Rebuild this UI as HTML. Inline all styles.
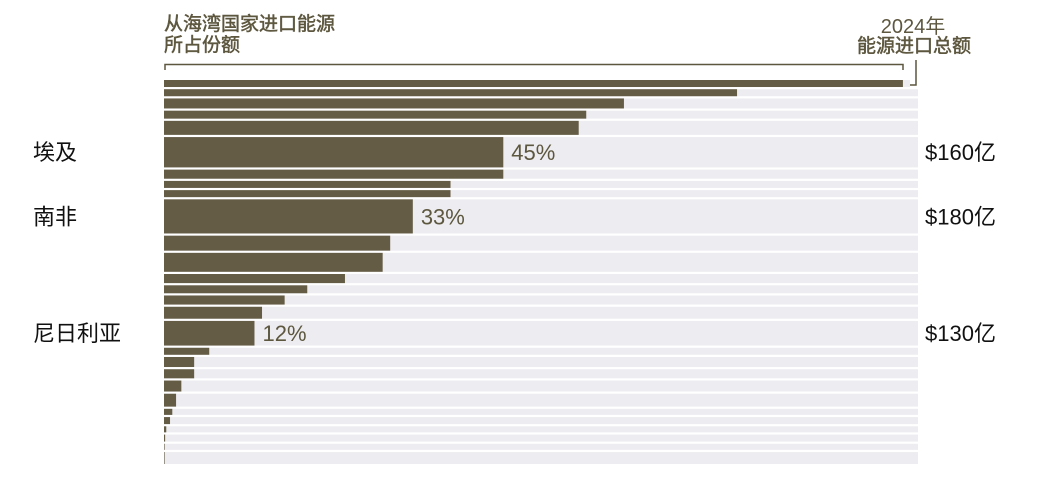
<!DOCTYPE html>
<html><head><meta charset="utf-8">
<style>
body{margin:0;background:#fff;width:1050px;height:478px;overflow:hidden;font-family:"Liberation Sans","Noto Sans CJK SC",sans-serif;}
svg{position:absolute;left:0;top:0}
</style></head>
<body>
<svg id="chart" width="1050" height="478" xmlns="http://www.w3.org/2000/svg">
  <text x="164" y="30" font-size="19" stroke="#5d573f" stroke-width="0.5" fill="#5d573f" font-family="Liberation Sans, Noto Sans CJK SC, sans-serif">从海湾国家进口能源</text>
  <text x="164" y="51" font-size="19" stroke="#5d573f" stroke-width="0.5" fill="#5d573f" font-family="Liberation Sans, Noto Sans CJK SC, sans-serif">所占份额</text>
  <text x="913" y="33" text-anchor="middle" font-size="20" fill="#5d573f" font-family="Liberation Sans, Noto Sans CJK SC, sans-serif">2024年</text>
  <text x="971" y="52" text-anchor="end" font-size="19" stroke="#5d573f" stroke-width="0.5" fill="#5d573f" font-family="Liberation Sans, Noto Sans CJK SC, sans-serif">能源进口总额</text>
  <path d="M165,70 V64.5 H903 V70" fill="none" stroke="#5d573f" stroke-width="1.5"/>
  <path d="M916,60 V85 H910" fill="none" stroke="#5d573f" stroke-width="1.5"/>
  <g id="rows"></g>
</svg>
<script>
const shares = [98,76,61,56,55,45,45,38,38,33,30,29,24,19,16,13,12,6,4,4,2.3,1.6,1.1,0.8,0.3,0.15,0.05,0.05];
const totals = [37,37,53,42,74,160,48,37,37,180,79,100,48,42,48,63,130,37,53,48,58,68,32,37,32,37,32,63];
const names = ["","","","","","埃及","","","","南非","","","","","","","尼日利亚","","","","","","","","","","",""];
const totalLabels = ["","","","","","$160亿","","","","$180亿","","","","","","","$130亿","","","","","","","","","","",""];
const shareLabels = ["","","","","","45%","","","","33%","","","","","","","12%","","","","","","","","","","",""];

const x0=164, x1=918, yTop=80, yBot=464, gap=2.2;
const sumT = totals.reduce((a,b)=>a+b,0);
const k = (yBot-yTop-gap*(totals.length-1))/sumT;
const xs = v => x0 + (x1-x0)*v/100;
const g = document.getElementById('rows');
const NS='http://www.w3.org/2000/svg';
let y=yTop;
shares.forEach((s,i)=>{
  const h = totals[i]*k;
  const bg=document.createElementNS(NS,'rect');
  
  
  bg.setAttribute('x',x0);bg.setAttribute('y',y);bg.setAttribute('width',(i===0?910:x1)-x0);bg.setAttribute('height',h);bg.setAttribute('fill','#edecf0');
  g.appendChild(bg);
  const r=document.createElementNS(NS,'rect');
  
  
  r.setAttribute('x',x0);r.setAttribute('y',y);r.setAttribute('width',Math.max(0.6,xs(s)-x0));r.setAttribute('height',h);r.setAttribute('fill','#645c45');
  g.appendChild(r);
  const cy=y+h/2+8;
  if(names[i]){
    const t=document.createElementNS(NS,'text');
    
    
    t.setAttribute('x',33);t.setAttribute('y',cy);t.setAttribute('font-size','22');t.setAttribute('fill','#111');
    t.textContent=names[i];g.appendChild(t);
  }
  if(shareLabels[i]){
    const t=document.createElementNS(NS,'text');
    
    
    t.setAttribute('x',xs(s)+8);t.setAttribute('y',cy);t.setAttribute('font-size','22');t.setAttribute('fill','#5d573f');
    t.textContent=shareLabels[i];g.appendChild(t);
  }
  if(totalLabels[i]){
    const t=document.createElementNS(NS,'text');
    
    
    t.setAttribute('x',925);t.setAttribute('y',cy);t.setAttribute('font-size','22');t.setAttribute('fill','#111');
    t.textContent=totalLabels[i];g.appendChild(t);
  }
  y+=h+gap;
});
</script>
</body></html>
